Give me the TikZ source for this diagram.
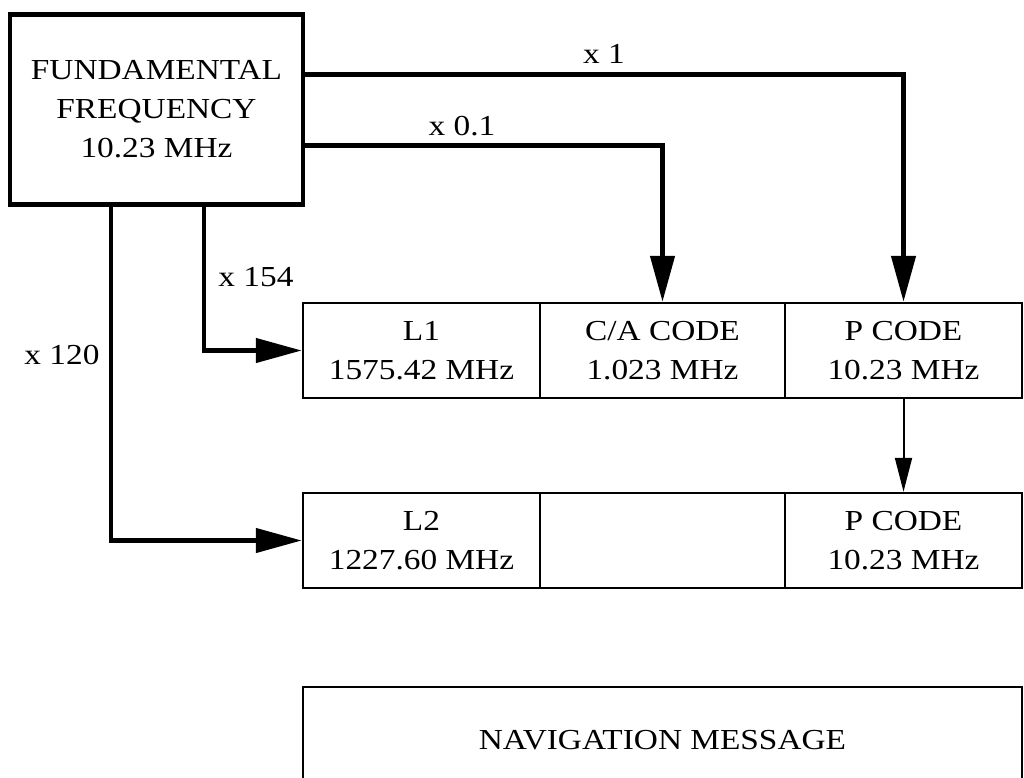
\documentclass[tikz,border=0pt]{standalone}
\usepackage{fontspec}
\setmainfont[FakeStretch=1.15]{Liberation Serif}
\usetikzlibrary{arrows.meta,calc}
\begin{document}
\begin{tikzpicture}[x=1pt,y=-1pt,
  txt/.style={font=\fontsize{29}{39}\selectfont, align=center},
  fundbox/.style={draw, line width=4.5pt, minimum width=293pt, minimum height=190pt, inner sep=0pt, txt},
  cell/.style={draw, line width=2.5pt, minimum width=#1, minimum height=95pt, inner sep=0pt, txt},
  conn/.style={line width=4.5pt, -{Triangle[length=46pt,width=24pt]}},
  thinconn/.style={line width=2pt, -{Triangle[length=34pt,width=17pt]}},
  lbl/.style={txt, inner sep=0pt}]
\useasboundingbox (0,0) rectangle (1024,777);
\clip (0,0) rectangle (1024,777);
\node[fundbox] (fund) at (156.5,109.5) {FUNDAMENTAL\\FREQUENCY\\10.23 MHz};
% L1 row
\node[cell=237pt] (l1) at (421.5,350.5) {L1\\1575.42 MHz};
\node[cell=245pt] (ca1) at (662.5,350.5) {C/A CODE\\1.023 MHz};
\node[cell=237pt] (p1) at (903.5,350.5) {P CODE\\10.23 MHz};
% L2 row
\node[cell=237pt] (l2) at (421.5,540.5) {L2\\1227.60 MHz};
\node[cell=245pt] (ca2) at (662.5,540.5) {};
\node[cell=237pt] (p2) at (903.5,540.5) {P CODE\\10.23 MHz};
% navigation message
\node[draw, line width=2.5pt, minimum width=719pt, minimum height=160pt, inner sep=0pt] (nav) at (662.5,767) {};
\node[txt] (navtxt) at (662.5,740) {NAVIGATION MESSAGE};
% connectors
\draw[conn] ($(fund.north east)+(0,62)$) -| (p1.north);
\draw[conn] ($(fund.north east)+(0,133)$) -| (ca1.north);
\draw[conn] ($(fund.south west)+(196,0)$) |- (l1.west);
\draw[conn] ($(fund.south west)+(103,0)$) |- (l2.west);
\draw[thinconn] (p1.south) -- (p2.north);
% labels
\node[lbl] (m1) at (604,54) {x 1};
\node[lbl] (m01) at (462,126) {x 0.1};
\node[lbl] (m154) at (256,277) {x 154};
\node[lbl] (m120) at (62,355) {x 120};
\end{tikzpicture}
\end{document}
